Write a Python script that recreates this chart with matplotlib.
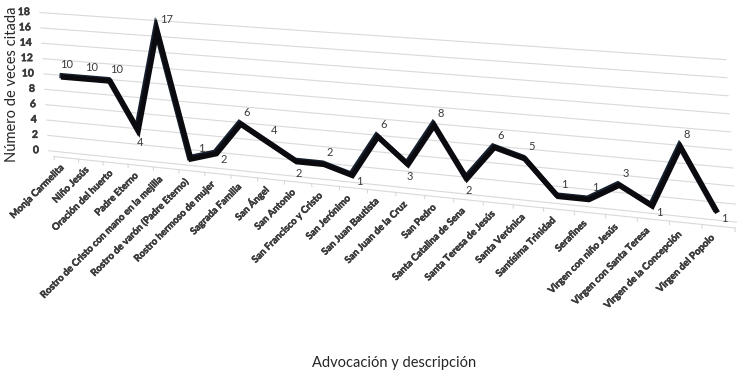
"""3D-style line chart: number of times each advocación is cited."""

import matplotlib

matplotlib.use("Agg")
import matplotlib.patheffects as pe
import matplotlib.pyplot as plt
import matplotlib.transforms as mtransforms
import numpy as np

CATEGORIES = [
    "Monja Carmelita",
    "Niño Jesús",
    "Oración del huerto",
    "Padre Eterno",
    "Rostro de Cristo con mano en la mejilla",
    "Rostro de varón (Padre Eterno)",
    "Rostro hermoso de mujer",
    "Sagrada Familia",
    "San Ángel",
    "San Antonio",
    "San Francisco y Cristo",
    "San Jerónimo",
    "San Juan Bautista",
    "San Juan de la Cruz",
    "San Pedro",
    "Santa Catalina de Sena",
    "Santa Teresa de Jesús",
    "Santa Verónica",
    "Santísima Trinidad",
    "Serafines",
    "Virgen con niño Jesús",
    "Virgen con Santa Teresa",
    "Virgen de la Concepción",
    "Virgen del Popolo",
]
COUNTS = [10, 10, 10, 4, 17, 1, 2, 6, 4, 2, 2, 1, 6, 3, 8, 2, 6, 5, 1, 1, 3, 1, 8, 1]
Y_TICKS = list(range(0, 19, 2))

# where each data label sits relative to its point: above / peak / below / right
LABEL_SIDE = ["a", "a", "a", "b", "p", "p", "r", "a", "a", "b", "a", "r",
              "a", "b", "a", "b", "a", "a", "a", "a", "a", "r", "a", "r"]
SIDE_OFFSET = {"a": (6, 12), "p": (10, 11), "b": (2, -12), "r": (7, -6)}

FONT = ["Lato", "DejaVu Sans"]
TEXT_COLOR = "#3a3a3a"
GRID_COLOR = "#d9d9d9"
HEAVY = [pe.withStroke(linewidth=0.35, foreground=TEXT_COLOR)]


class Perspective(mtransforms.Transform):
    """Maps (category index, value) onto the tilted chart plane, in pixels."""

    input_dims = 2
    output_dims = 2

    def __init__(self, dx=0.0, dy=0.0):
        super().__init__()
        self.dx = dx
        self.dy = dy

    def transform_non_affine(self, values):
        values = np.asarray(values, dtype=float)
        i = values[:, 0]
        v = values[:, 1]
        w = 1 - 0.0062 * i
        x = (66 + 23.9 * i - 0.5 * v) / w + self.dx
        y = (154 + 1.57 * i - 7.7 * v) / w + self.dy
        return np.column_stack([x, y])


def main() -> None:
    plt.rcParams["font.family"] = FONT
    fig = plt.figure(figsize=(7.5, 3.75), dpi=100)
    ax = fig.add_axes([0, 0, 1, 1])
    ax.set_xlim(0, 750)
    ax.set_ylim(375, 0)
    ax.axis("off")

    plane = Perspective() + ax.transData
    back = Perspective(dx=-1.5, dy=-1.5) + ax.transData
    wall = Perspective(dx=-5, dy=-2) + ax.transData
    ticks = Perspective(dx=-15, dy=-2) + ax.transData

    n = len(CATEGORIES)
    idx = np.arange(n)

    # back wall gridlines + value labels
    for t in Y_TICKS:
        ax.plot([-0.5, n - 0.3], [t, t], transform=wall, color=GRID_COLOR, lw=0.8, zorder=1)
        ax.text(-0.5, t, str(t), transform=ticks, ha="right", va="center",
                fontsize=7.5, fontweight="bold", color=TEXT_COLOR, path_effects=HEAVY)

    # floor front edge with category ticks
    ax.plot([-0.5, n - 0.5], [-0.5, -0.5], transform=plane, color=GRID_COLOR, lw=0.8, zorder=1)
    for b in np.arange(-0.5, n, 1.0):
        ax.plot([b, b], [-0.5, -0.9], transform=plane, color=GRID_COLOR, lw=0.8, zorder=1)

    # ribbon: back edge and front edge drawn thick
    ax.plot(idx, COUNTS, transform=back, color="#16202e", lw=3.8,
            solid_joinstyle="miter", solid_capstyle="butt", zorder=3)
    ax.plot(idx, COUNTS, transform=plane, color="#0a0a0f", lw=3.8,
            solid_joinstyle="miter", solid_capstyle="butt", zorder=3)

    # data labels
    for i, (c, side) in enumerate(zip(COUNTS, LABEL_SIDE)):
        ax.annotate(str(c), xy=(i, c), xycoords=plane, xytext=SIDE_OFFSET[side],
                    textcoords="offset pixels", ha="center", va="center",
                    fontsize=8, color=TEXT_COLOR, zorder=4)

    # category labels
    for i, name in enumerate(CATEGORIES):
        ax.text(i - 0.15, -1.6, name, transform=plane, rotation=45,
                rotation_mode="anchor", ha="right", va="center",
                fontsize=7, fontweight="bold", color=TEXT_COLOR, path_effects=HEAVY)

    fig.text(12 / 750, 1 - 84 / 375, "Número de veces citada", rotation=90,
             ha="center", va="center", fontsize=10.5, color="#262626")
    fig.text(394 / 750, 1 - 363 / 375, "Advocación y descripción",
             ha="center", va="center", fontsize=10.5, color="#262626")

    fig.savefig("out.png", dpi=100)


if __name__ == "__main__":
    main()
